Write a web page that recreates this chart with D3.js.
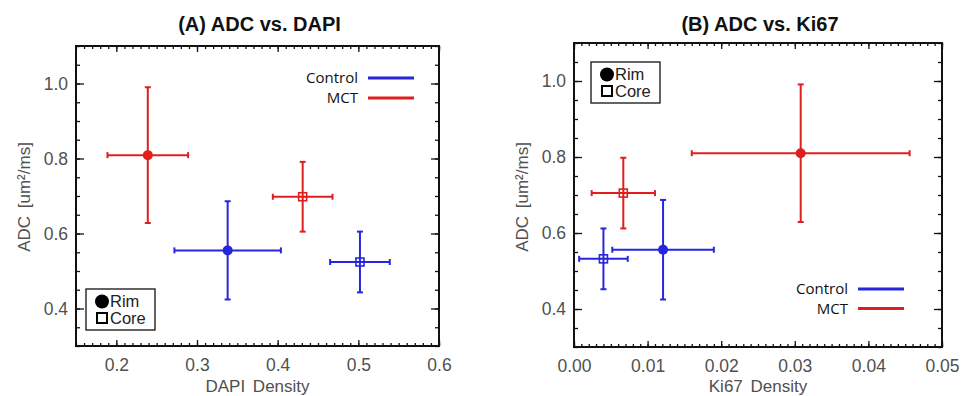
<!DOCTYPE html>
<html>
<head>
<meta charset="utf-8">
<script src="https://cdn.jsdelivr.net/npm/d3@7"></script>
<style>
  body { margin: 0; background: #fff; }
  svg { display: block; }
</style>
</head>
<body>
<script>
var width = 974;
var height = 396;

// point order: Control Rim, Control Core, MCT Rim, MCT Core
var groupNames = ['Control', 'Control', 'MCT', 'MCT'];
var regionNames = ['Rim', 'Core', 'Rim', 'Core'];

var dapiDensity = [0.338, 0.502, 0.239, 0.431];
var dapiDensityErr = [0.066, 0.037, 0.050, 0.037];
var dapiAdc = [0.555, 0.524, 0.809, 0.698];
var dapiAdcErr = [0.131, 0.081, 0.181, 0.093];

var ki67Density = [0.0121, 0.0040, 0.0308, 0.0067];
var ki67DensityErr = [0.0069, 0.0033, 0.0148, 0.0043];
var ki67Adc = [0.556, 0.532, 0.810, 0.705];
var ki67AdcErr = [0.131, 0.080, 0.181, 0.093];

var dapiTicks = [0.2, 0.3, 0.4, 0.5, 0.6];
var ki67Ticks = [0.00, 0.01, 0.02, 0.03, 0.04, 0.05];
var adcTicks = [0.4, 0.6, 0.8, 1.0];
var legendGroups = ['Control', 'MCT'];
var legendRegions = ['Rim', 'Core'];

var colors = {Control: '#2626dc', MCT: '#e01e1e'};
var tickFont = 'Liberation Sans, Arial, sans-serif';
var legendFont = 'Open Sans, Liberation Sans, sans-serif';

var svg = d3.select('body').append('svg')
    .attr('width', width)
    .attr('height', height);

function steps(lo, hi, step) {
    var n = Math.round((hi - lo) / step);
    return d3.range(n + 1).map(i => +(lo + i * step).toFixed(6));
}

function panel(opt) {
    var x = d3.scaleLinear().domain(opt.xDomain).range([opt.left, opt.right]);
    var y = d3.scaleLinear().domain([0.3, 1.1]).range([opt.bottom, opt.top]);
    var g = svg.append('g');

    // ticks point inward on all four sides, like an IDL box plot
    var xMinor = steps(opt.xDomain[0], opt.xDomain[1], opt.xMinorStep);
    var yMinor = steps(0.3, 1.1, 0.05);

    function tickAxis(axis, tr, values, size, labels) {
        var a = g.append('g')
            .attr('transform', tr)
            .call(axis.tickValues(values).tickSize(-size)
                .tickFormat(labels ? labels : ''));
        a.select('.domain').remove();
        a.selectAll('line').attr('stroke', '#111').attr('stroke-width', 1.3);
        return a;
    }

    tickAxis(d3.axisBottom(x), 'translate(0,' + opt.bottom + ')', xMinor, 3);
    tickAxis(d3.axisTop(x), 'translate(0,' + opt.top + ')', xMinor, 3);
    tickAxis(d3.axisTop(x), 'translate(0,' + opt.top + ')', opt.xTicks, 6);
    tickAxis(d3.axisLeft(y), 'translate(' + opt.left + ',0)', yMinor, 4);
    tickAxis(d3.axisRight(y), 'translate(' + opt.right + ',0)', yMinor, 4);
    tickAxis(d3.axisRight(y), 'translate(' + opt.right + ',0)', adcTicks, 8);

    var xa = tickAxis(d3.axisBottom(x).tickPadding(13), 'translate(0,' + opt.bottom + ')',
        opt.xTicks, 6, d3.format(opt.xFormat));
    var ya = tickAxis(d3.axisLeft(y).tickPadding(8), 'translate(' + opt.left + ',0)',
        adcTicks, 8, d3.format('.1f'));
    [xa, ya].forEach(a => a.selectAll('text')
        .attr('font-family', tickFont)
        .attr('font-size', 17.5)
        .attr('fill', '#505050'));

    g.append('rect')
        .attr('x', opt.left).attr('y', opt.top)
        .attr('width', opt.right - opt.left)
        .attr('height', opt.bottom - opt.top)
        .attr('fill', 'none')
        .attr('stroke', '#111')
        .attr('stroke-width', 2);

    // titles
    g.append('text')
        .attr('x', (opt.left + opt.right) / 2 + 2)
        .attr('y', 31)
        .attr('text-anchor', 'middle')
        .attr('font-family', 'Liberation Sans, Arial, sans-serif')
        .attr('font-weight', 'bold')
        .attr('font-size', 20)
        .attr('fill', '#111')
        .text(opt.title);

    g.append('text')
        .attr('x', (opt.left + opt.right) / 2)
        .attr('y', 392)
        .attr('text-anchor', 'middle')
        .attr('font-family', tickFont)
        .attr('font-size', 17)
        .attr('fill', '#505050')
        .attr('word-spacing', 3)
        .text(opt.xLabel);

    g.append('text')
        .attr('transform', 'translate(' + opt.yLabelX + ',197) rotate(-90)')
        .attr('text-anchor', 'middle')
        .attr('dy', '0.35em')
        .attr('font-family', tickFont)
        .attr('font-size', 17)
        .attr('fill', '#505050')
        .attr('word-spacing', 3)
        .text('ADC [um\u00b2/ms]');

    // error bars
    var pts = opt.xs.map((v, i) => ({
        x: v, xe: opt.xErr[i], y: opt.ys[i], ye: opt.yErr[i],
        group: groupNames[i], region: regionNames[i]
    }));
    var cap = 3;
    var bars = g.append('g').selectAll('g').data(pts).enter().append('g')
        .attr('stroke', d => colors[d.group])
        .attr('stroke-width', 2)
        .attr('fill', 'none');
    bars.append('line')
        .attr('x1', d => x(d.x - d.xe)).attr('x2', d => x(d.x + d.xe))
        .attr('y1', d => y(d.y)).attr('y2', d => y(d.y));
    bars.append('line')
        .attr('x1', d => x(d.x)).attr('x2', d => x(d.x))
        .attr('y1', d => y(d.y - d.ye)).attr('y2', d => y(d.y + d.ye));
    [-1, 1].forEach(s => {
        bars.append('line')
            .attr('x1', d => x(d.x + s * d.xe)).attr('x2', d => x(d.x + s * d.xe))
            .attr('y1', d => y(d.y) - cap).attr('y2', d => y(d.y) + cap);
        bars.append('line')
            .attr('x1', d => x(d.x) - cap).attr('x2', d => x(d.x) + cap)
            .attr('y1', d => y(d.y + s * d.ye)).attr('y2', d => y(d.y + s * d.ye));
    });
    bars.filter(d => d.region == 'Rim').append('circle')
        .attr('cx', d => x(d.x)).attr('cy', d => y(d.y))
        .attr('r', 5)
        .attr('fill', d => colors[d.group])
        .attr('stroke', 'none');
    bars.filter(d => d.region == 'Core').append('rect')
        .attr('x', d => x(d.x) - 4).attr('y', d => y(d.y) - 4)
        .attr('width', 8).attr('height', 8)
        .attr('stroke-width', 1.6);

    // colour legend
    var cl = g.append('g');
    legendGroups.forEach((name, i) => {
        var ly = opt.colorLegend.y + i * opt.colorLegend.dy;
        cl.append('text')
            .attr('x', opt.colorLegend.x)
            .attr('y', ly)
            .attr('dy', '0.35em')
            .attr('text-anchor', 'end')
            .attr('font-family', legendFont)
            .attr('font-size', 15)
            .attr('fill', '#111')
            .text(name);
        cl.append('line')
            .attr('x1', opt.colorLegend.x + 10).attr('x2', opt.colorLegend.x + 56)
            .attr('y1', ly).attr('y2', ly)
            .attr('stroke', colors[name])
            .attr('stroke-width', 3);
    });

    // symbol legend
    var sb = opt.symbolBox;
    var sl = g.append('g');
    sl.append('rect')
        .attr('x', sb.x).attr('y', sb.y)
        .attr('width', 69).attr('height', 41)
        .attr('fill', '#fff')
        .attr('stroke', '#111')
        .attr('stroke-width', 1.3);
    legendRegions.forEach((name, i) => {
        var cy = sb.y + 12.5 + i * 16.5;
        if (name == 'Rim') {
            sl.append('circle')
                .attr('cx', sb.x + 16).attr('cy', cy).attr('r', 7)
                .attr('fill', '#000');
        } else {
            sl.append('rect')
                .attr('x', sb.x + 11).attr('y', cy - 5)
                .attr('width', 10).attr('height', 10)
                .attr('fill', 'none')
                .attr('stroke', '#000')
                .attr('stroke-width', 2);
        }
        sl.append('text')
            .attr('x', sb.x + 24)
            .attr('y', cy)
            .attr('dy', '0.36em')
            .attr('font-family', tickFont)
            .attr('font-size', 16.5)
            .attr('fill', '#222')
            .text(name);
    });
}

panel({
    title: '(A) ADC vs. DAPI',
    xLabel: 'DAPI Density',
    left: 76, right: 439, top: 46, bottom: 346,
    xDomain: [0.15, 0.6], xMinorStep: 0.01,
    xTicks: dapiTicks, xFormat: '.1f',
    xs: dapiDensity, xErr: dapiDensityErr, ys: dapiAdc, yErr: dapiAdcErr,
    yLabelX: 24,
    colorLegend: {x: 358, y: 78, dy: 20},
    symbolBox: {x: 86, y: 289}
});

panel({
    title: '(B) ADC vs. Ki67',
    xLabel: 'Ki67 Density',
    left: 574, right: 942, top: 43, bottom: 347,
    xDomain: [0, 0.05], xMinorStep: 0.001,
    xTicks: ki67Ticks, xFormat: '.2f',
    xs: ki67Density, xErr: ki67DensityErr, ys: ki67Adc, yErr: ki67AdcErr,
    yLabelX: 522,
    colorLegend: {x: 848, y: 289, dy: 19.5},
    symbolBox: {x: 591, y: 62}
});
</script>
</body>
</html>
